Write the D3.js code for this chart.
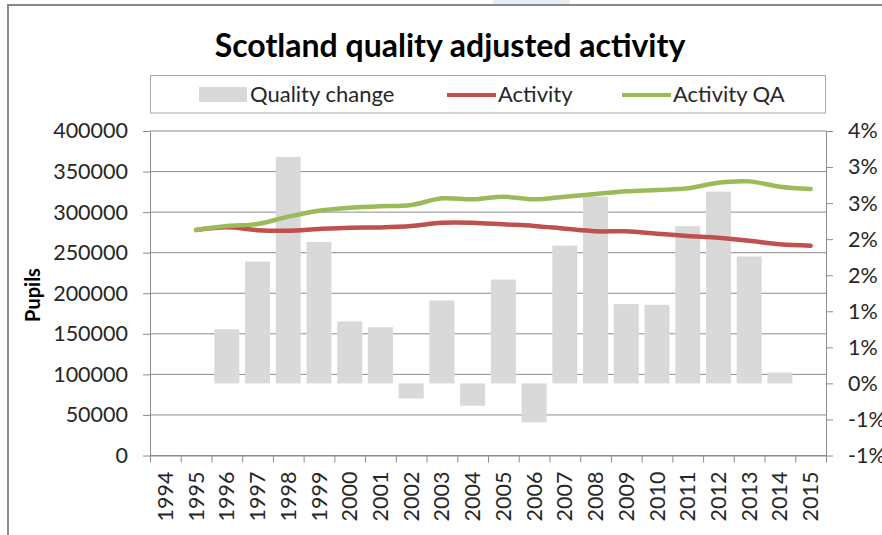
<!DOCTYPE html>
<html>
<head>
<meta charset="utf-8">
<script src="https://cdn.jsdelivr.net/npm/d3@7"></script>
<style>
  html, body { margin: 0; padding: 0; background: #fff; }
  svg { display: block; font-family: Lato, "Open Sans", sans-serif; }
</style>
</head>
<body>
<svg id="chart" width="882" height="535"></svg>
<script>
// ---------------------------------------------
//  Data
// ---------------------------------------------

const years = ["1994", "1995", "1996", "1997", "1998", "1999", "2000", "2001", "2002", "2003", "2004",
  "2005", "2006", "2007", "2008", "2009", "2010", "2011", "2012", "2013", "2014", "2015"];

// Quality change, in percent (right axis)
const qualityChange = [null, null, 0.75, 1.69, 3.14, 1.96, 0.86, 0.78, -0.21, 1.15, -0.31,
  1.44, -0.54, 1.91, 2.59, 1.10, 1.09, 2.18, 2.66, 1.76, 0.15, null];

// Activity, pupils (left axis)
const activity = [null, 278000, 281300, 277800, 277100, 279200, 280800, 281200, 282900, 287000, 287000,
  285000, 283000, 279600, 276400, 276400, 273400, 270600, 268500, 264800, 260300, 258600];

// Activity quality adjusted, pupils (left axis)
const activityQA = [null, 278000, 282900, 285400, 294400, 301800, 305500, 307100, 308800, 317000, 315800,
  319000, 315800, 319000, 322300, 325600, 327300, 329300, 336300, 337900, 331400, 328500];

const leftTicks = [0, 50000, 100000, 150000, 200000, 250000, 300000, 350000, 400000];
const rightTicks = [-1, -0.5, 0, 0.5, 1, 1.5, 2, 2.5, 3, 3.5];
const rightTickLabels = ["-1%", "-1%", "0%", "1%", "1%", "2%", "2%", "3%", "3%", "4%"];

const seriesNames = ["Quality change", "Activity", "Activity QA"];

// ---------------------------------------------
//  Layout & scales
// ---------------------------------------------

const svg = d3.select("#chart");
const plot = { left: 150, right: 826, top: 131, bottom: 455.5 };

const x = d3.scaleBand()
  .domain(years)
  .range([plot.left, plot.right])
  .paddingInner(0.186)
  .paddingOuter(0.093);

const xEdge = d3.scaleLinear()
  .domain([0, years.length])
  .range([plot.left, plot.right]);

const yLeft = d3.scaleLinear().domain([0, 400000]).range([plot.bottom, plot.top]);
const yRight = d3.scaleLinear().domain([-1, 3.5]).range([plot.bottom, plot.top]);

const gridColor = "#8c8c8c";
const textColor = "#262626";
const red = "#c0504d";
const green = "#9bbb59";
const barColor = "#d9d9d9";

// frame of the (cropped) chart object
svg.append("rect").attr("x", 493).attr("y", 0).attr("width", 77).attr("height", 4).attr("fill", "#e6edf4");
svg.append("line").attr("x1", 7).attr("x2", 882).attr("y1", 5).attr("y2", 5)
  .attr("stroke", "#8a8a8a").attr("stroke-width", 2);
svg.append("line").attr("x1", 8).attr("x2", 8).attr("y1", 5).attr("y2", 535)
  .attr("stroke", "#8a8a8a").attr("stroke-width", 2);

// title
svg.append("text")
  .attr("x", 450).attr("y", 57)
  .attr("text-anchor", "middle")
  .attr("font-size", 32).attr("font-weight", "bold").attr("fill", "#000")
  .text("Scotland quality adjusted activity");

// ---------------------------------------------
//  Legend
// ---------------------------------------------

const legend = svg.append("g");
legend.append("rect")
  .attr("x", 150.5).attr("y", 75.5).attr("width", 675).attr("height", 37.5)
  .attr("fill", "#fff").attr("stroke", "#a6a6a6");

legend.append("rect").attr("x", 199).attr("y", 87).attr("width", 48).attr("height", 15).attr("fill", barColor);
legend.append("line").attr("x1", 447).attr("x2", 496).attr("y1", 95).attr("y2", 95)
  .attr("stroke", red).attr("stroke-width", 4);
legend.append("line").attr("x1", 622).attr("x2", 671).attr("y1", 95).attr("y2", 95)
  .attr("stroke", green).attr("stroke-width", 4);

[250, 498, 673].forEach((lx, i) => {
  legend.append("text")
    .attr("x", lx).attr("y", 102)
    .attr("font-size", 22).attr("fill", textColor)
    .text(seriesNames[i]);
});

// ---------------------------------------------
//  Gridlines, bars, axes, lines
// ---------------------------------------------

svg.append("g")
  .selectAll("line")
  .data(leftTicks)
  .join("line")
  .attr("x1", plot.left).attr("x2", plot.right)
  .attr("y1", d => yLeft(d)).attr("y2", d => yLeft(d))
  .attr("stroke", gridColor).attr("stroke-width", 1);

const barData = years.map((yr, i) => ({ year: yr, value: qualityChange[i] })).filter(d => d.value !== null);

svg.append("g")
  .selectAll("rect")
  .data(barData)
  .join("rect")
  .attr("x", d => x(d.year))
  .attr("width", x.bandwidth())
  .attr("y", d => yRight(Math.max(0, d.value)))
  .attr("height", d => Math.abs(yRight(d.value) - yRight(0)))
  .attr("fill", barColor);

function styleAxis(g) {
  g.selectAll("path, line").attr("stroke", gridColor).attr("stroke-width", 1);
  g.selectAll("text").attr("fill", textColor).attr("font-size", 21.5).attr("font-family", "Lato, 'Open Sans', sans-serif");
}

svg.append("g")
  .attr("transform", `translate(${plot.left},0)`)
  .call(d3.axisLeft(yLeft).tickValues(leftTicks).tickSize(7).tickSizeOuter(0).tickPadding(15).tickFormat(d3.format("d")))
  .call(styleAxis);

svg.append("g")
  .attr("transform", `translate(${plot.right},0)`)
  .call(d3.axisRight(yRight).tickValues(rightTicks).tickSize(7).tickSizeOuter(0).tickPadding(15)
    .tickFormat((d, i) => rightTickLabels[i]))
  .call(styleAxis);

svg.append("g")
  .attr("transform", `translate(0,${plot.bottom})`)
  .call(d3.axisBottom(xEdge).tickValues(d3.range(0, years.length + 1)).tickSize(7).tickSizeOuter(0).tickFormat(""))
  .call(styleAxis);

svg.append("g")
  .attr("transform", `translate(0,${plot.bottom})`)
  .call(d3.axisBottom(x).tickSize(0).tickSizeOuter(0))
  .call(g => g.select(".domain").remove())
  .call(styleAxis)
  .selectAll("text")
  .attr("transform", "rotate(-90)")
  .attr("text-anchor", "end")
  .attr("x", -16)
  .attr("y", 0)
  .attr("dy", "0.35em");

// y axis title
svg.append("text")
  .attr("transform", "translate(40,295) rotate(-90)")
  .attr("text-anchor", "middle")
  .attr("font-size", 20).attr("font-weight", "bold").attr("fill", "#000")
  .text("Pupils");

const line = d3.line()
  .defined(d => d.value !== null)
  .x(d => x(d.year) + x.bandwidth() / 2)
  .y(d => yLeft(d.value))
  .curve(d3.curveCatmullRom.alpha(0.5));

[[activity, red], [activityQA, green]].forEach(([values, color]) => {
  svg.append("path")
    .datum(years.map((yr, i) => ({ year: yr, value: values[i] })))
    .attr("d", line)
    .attr("fill", "none")
    .attr("stroke", color)
    .attr("stroke-width", 4.5)
    .attr("stroke-linecap", "round")
    .attr("stroke-linejoin", "round");
});
</script>
</body>
</html>
